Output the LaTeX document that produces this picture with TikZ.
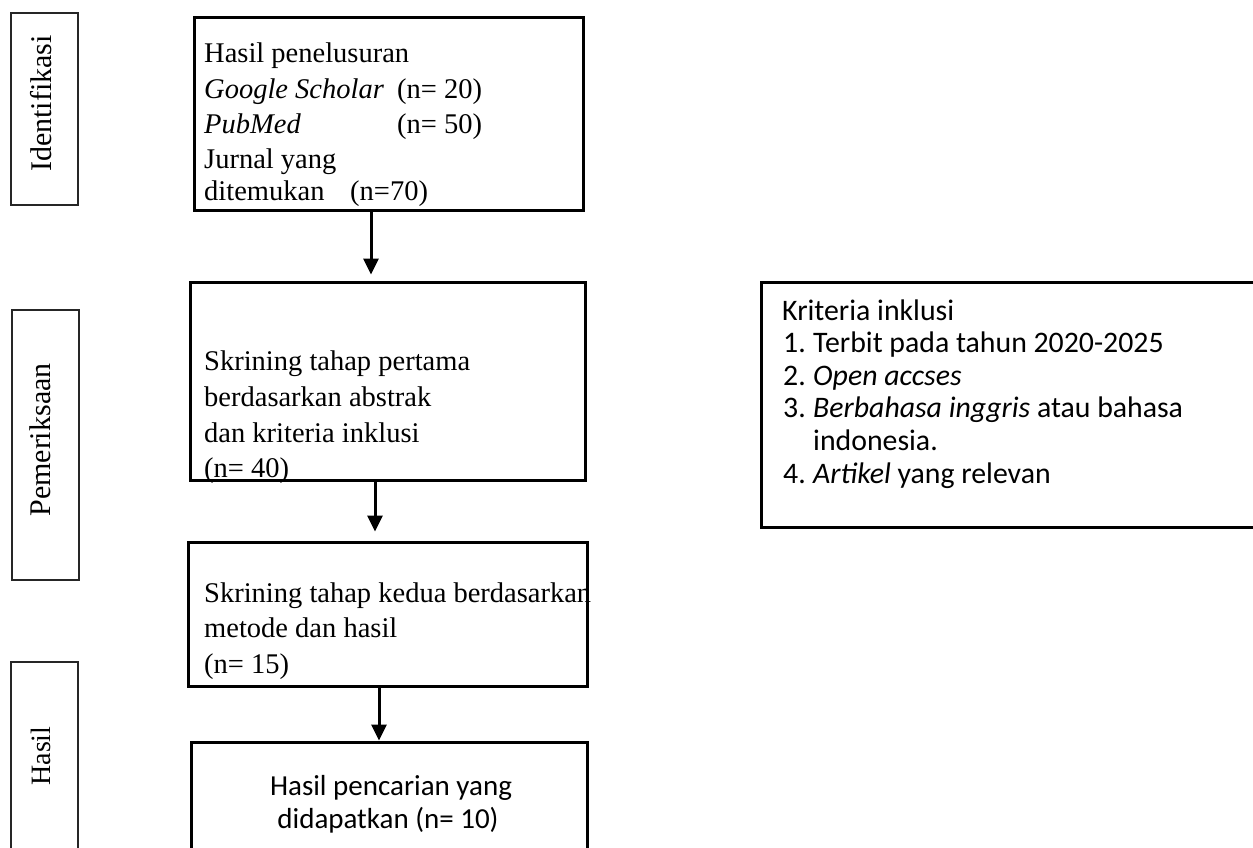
\documentclass[tikz,border=0pt]{standalone}
\usepackage{fontspec}
\setmainfont{Liberation Serif}
\newfontfamily\calib{Carlito}
\usetikzlibrary{arrows.meta}
\begin{document}
\begin{tikzpicture}[x=1pt,y=-1pt,
  thickbox/.style={draw=black, line width=3pt, inner sep=0pt},
  sidebox/.style={draw=black!85, line width=1.5pt, inner sep=0pt},
  serif/.style={font=\fontsize{28.5}{35.5}\selectfont, inner sep=0pt, anchor=base west},
  sidelabel/.style={rotate=90, anchor=base, inner sep=0pt},
  cal/.style={font=\calib\fontsize{29.8}{32.6}\selectfont, inner sep=0pt, anchor=base west},
  calc/.style={font=\calib\fontsize{29}{32.6}\selectfont, inner sep=0pt, anchor=base},
  arr/.style={line width=3pt, -{Triangle[width=15pt,length=16pt]}}]
\useasboundingbox (0,0) rectangle (1253,847);
\clip (0,0) rectangle (1253,847);
\fill[white] (0,0) rectangle (1253,847);

% side boxes
\node[sidebox, minimum width=67pt, minimum height=192pt] (s1) at (44.5,109) {};
\node[sidebox, minimum width=67pt, minimum height=270pt] (s2) at (45.5,445) {};
\node[sidebox, minimum width=67pt, minimum height=208pt] (s3) at (44.5,766) {};
\node[sidelabel, font=\fontsize{30}{36}\selectfont] (l1) at (51,103.5) {Identifikasi};
\node[sidelabel, font=\fontsize{30}{36}\selectfont] (l2) at (50,440) {Pemeriksaan};
\node[sidelabel, font=\fontsize{28}{34}\selectfont] (l3) at (50,756) {Hasil};

% main boxes
\node[thickbox, minimum width=389pt, minimum height=193pt] (b1) at (388.5,113.5) {};
\node[thickbox, minimum width=395pt, minimum height=198pt] (b2) at (387.5,381) {};
\node[thickbox, minimum width=399pt, minimum height=144pt] (b3) at (387.5,614) {};
\node[thickbox, minimum width=396pt, minimum height=128pt] (b4) at (389,806) {};
\node[thickbox, minimum width=509pt, minimum height=245pt] (k) at (1015.5,404.5) {};

% box 1 text
\node[serif] (t1a) at (204,62) {Hasil penelusuran};
\node[serif] (t1b) at (204,98) {\textit{Google Scholar}};
\node[serif] (t1c) at (397,98) {(n= 20)};
\node[serif] (t1d) at (204,133) {\textit{PubMed}};
\node[serif] (t1e) at (397,133) {(n= 50)};
\node[serif] (t1f) at (204,168) {Jurnal yang};
\node[serif] (t1g) at (204,200) {ditemukan};
\node[serif] (t1h) at (350,200) {(n=70)};

% box 2 text
\node[serif] (t2a) at (204,370) {Skrining tahap pertama};
\node[serif] (t2b) at (204,406.5) {berdasarkan abstrak};
\node[serif] (t2c) at (204,442) {dan kriteria inklusi};
\node[serif] (t2d) at (204,477) {(n= 40)};

% box 3 text
\node[serif] (t3a) at (204,602) {Skrining tahap kedua berdasarkan};
\node[serif] (t3b) at (204,637.5) {metode dan hasil};
\node[serif] (t3c) at (204,673) {(n= 15)};

% box 4 text
\node[calc] (t4a) at (391,795) {Hasil pencarian yang};
\node[calc] (t4b) at (388,828) {didapatkan (n= 10)};

% criteria text
\node[cal] (k0) at (782,320) {Kriteria inklusi};
\node[cal] (k1n) at (783,352.6) {1.};
\node[cal] (k1) at (813,352.6) {Terbit pada tahun 2020-2025};
\node[cal] (k2n) at (783,385.2) {2.};
\node[cal] (k2) at (813,385.2) {\textit{Open accses}};
\node[cal] (k3n) at (783,417.8) {3.};
\node[cal] (k3) at (813,417.8) {\textit{Berbahasa inggris} atau bahasa};
\node[cal] (k3b) at (813,450.4) {indonesia.};
\node[cal] (k4n) at (783,483) {4.};
\node[cal] (k4) at (813,483) {\textit{Artikel} yang relevan};

% arrows
\draw[arr, shorten >=6pt] ([xshift=-17.5pt]b1.south) -- ([xshift=-17.5pt]b1.south |- b2.north);
\draw[arr, shorten >=9pt] ([xshift=-12.5pt]b2.south) -- ([xshift=-12.5pt]b2.south |- b3.north);
\draw[arr] ([xshift=-8.5pt]b3.south) -- ([xshift=-8.5pt]b3.south |- b4.north);
\end{tikzpicture}
\end{document}
